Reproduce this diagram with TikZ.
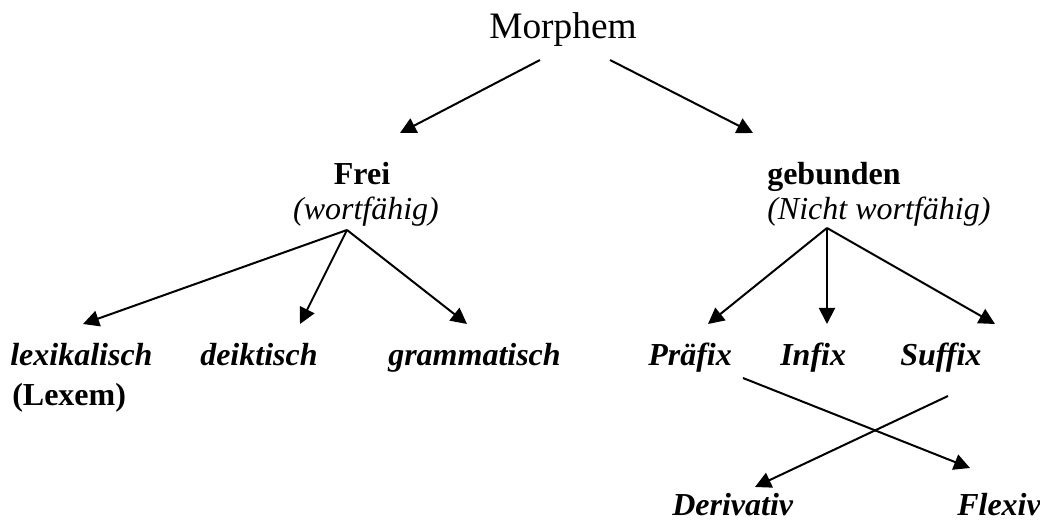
\documentclass[tikz,border=0pt]{standalone}
\usepackage{fontspec}
\setmainfont{Liberation Serif}
\usetikzlibrary{arrows.meta}
\begin{document}
\begin{tikzpicture}[x=0.75pt,y=-0.75pt,
  lbl/.style={anchor=base,inner sep=0pt,font=\fontsize{24}{28}\selectfont},
  cat/.style={lbl,font=\fontsize{24}{28}\selectfont\bfseries},
  note/.style={lbl,font=\fontsize{24}{28}\selectfont\itshape},
  leaf/.style={lbl,font=\fontsize{24}{28}\selectfont\bfseries\itshape},
  arr/.style={line width=1.5pt,-{Triangle[length=12pt,width=12pt]}}]
\useasboundingbox (0,0) rectangle (1040,520);

% root
\node[lbl,font=\fontsize{28}{32}\selectfont] (morphem) at (563,39) {Morphem};

% second level
\node[cat] (frei) at (362,185) {Frei};
\node[note] (wortf) at (366,220) {(wortfähig)};
\node[cat,anchor=base west] (gebunden) at (767,185) {gebunden};
\node[note,anchor=base west] (nichtwortf) at (767,220) {(Nicht wortfähig)};

% leaves of the free branch
\node[leaf,anchor=base west] (lexikalisch) at (10,366) {lexikalisch};
\node[cat,anchor=base west] (lexem) at (12,406) {(Lexem)};
\node[leaf,anchor=base west] (deiktisch) at (200,366) {deiktisch};
\node[leaf,anchor=base west] (grammatisch) at (388,366) {grammatisch};

% leaves of the bound branch
\node[leaf,anchor=base west] (praefix) at (648,366) {Präfix};
\node[leaf,anchor=base west] (infix) at (780,366) {Infix};
\node[leaf,anchor=base west] (suffix) at (900,366) {Suffix};
\node[leaf,anchor=base west] (derivativ) at (672,515) {Derivativ};
\node[leaf,anchor=base west] (flexiv) at (957,515) {Flexiv};

% connector ends
\coordinate (mL) at (540,60);
\coordinate (mR) at (610,60);
\coordinate (freiIn) at (400,133);
\coordinate (gebIn) at (753,133);
\coordinate (freiHub) at (347,230);
\coordinate (gebHub) at (827,228);
\coordinate (lexIn) at (83,324);
\coordinate (deiIn) at (300,324);
\coordinate (graIn) at (467,324);
\coordinate (praIn) at (708,324);
\coordinate (infIn) at (827,324);
\coordinate (sufIn) at (995,324);
\coordinate (praOut) at (743,378);
\coordinate (sufOut) at (948,396);
\coordinate (derIn) at (755,487);
\coordinate (flexIn) at (970,468);

\draw[arr] (mL) -- (freiIn);
\draw[arr] (mR) -- (gebIn);
\draw[arr] (freiHub) -- (lexIn);
\draw[arr] (freiHub) -- (deiIn);
\draw[arr] (freiHub) -- (graIn);
\draw[arr] (gebHub) -- (praIn);
\draw[arr] (gebHub) -- (infIn);
\draw[arr] (gebHub) -- (sufIn);
\draw[arr] (praOut) -- (flexIn);
\draw[arr] (sufOut) -- (derIn);
\end{tikzpicture}
\end{document}
